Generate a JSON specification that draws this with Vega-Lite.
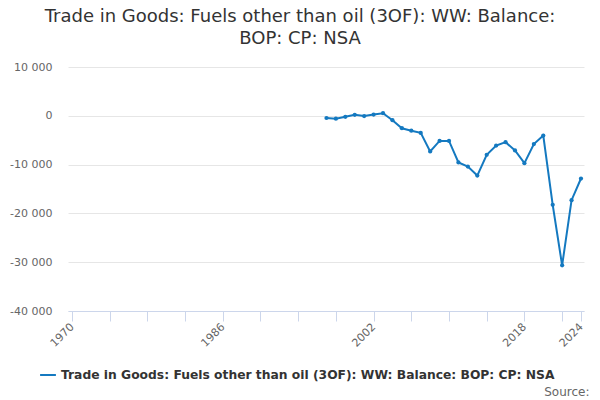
{
  "$schema": "https://vega.github.io/schema/vega-lite/v6.json",
  "autosize": {"type": "none"},
  "padding": {"left": 68, "top": 67, "right": 16, "bottom": 89},
  "width": 516,
  "height": 244,
  "background": "white",
  "title": {
    "text": ["Trade in Goods: Fuels other than oil (3OF): WW: Balance:", "BOP: CP: NSA"],
    "font": "DejaVu Sans",
    "fontSize": 18,
    "fontWeight": "normal",
    "color": "#333333",
    "anchor": "middle",
    "dx": -26,
    "offset": 13,
    "lineHeight": 22
  },
  "config": {
    "locale": {
      "number": {"decimal": ".", "thousands": " ", "grouping": [3], "currency": ["", ""], "minus": "-"}
    },
    "view": {"stroke": null},
    "font": "DejaVu Sans"
  },
  "data": {
    "values": [
      {"year": 1997, "value": -450, "series": "Trade in Goods: Fuels other than oil (3OF): WW: Balance: BOP: CP: NSA"},
      {"year": 1998, "value": -600, "series": "Trade in Goods: Fuels other than oil (3OF): WW: Balance: BOP: CP: NSA"},
      {"year": 1999, "value": -200, "series": "Trade in Goods: Fuels other than oil (3OF): WW: Balance: BOP: CP: NSA"},
      {"year": 2000, "value": 200, "series": "Trade in Goods: Fuels other than oil (3OF): WW: Balance: BOP: CP: NSA"},
      {"year": 2001, "value": -50, "series": "Trade in Goods: Fuels other than oil (3OF): WW: Balance: BOP: CP: NSA"},
      {"year": 2002, "value": 250, "series": "Trade in Goods: Fuels other than oil (3OF): WW: Balance: BOP: CP: NSA"},
      {"year": 2003, "value": 530, "series": "Trade in Goods: Fuels other than oil (3OF): WW: Balance: BOP: CP: NSA"},
      {"year": 2004, "value": -900, "series": "Trade in Goods: Fuels other than oil (3OF): WW: Balance: BOP: CP: NSA"},
      {"year": 2005, "value": -2550, "series": "Trade in Goods: Fuels other than oil (3OF): WW: Balance: BOP: CP: NSA"},
      {"year": 2006, "value": -3050, "series": "Trade in Goods: Fuels other than oil (3OF): WW: Balance: BOP: CP: NSA"},
      {"year": 2007, "value": -3500, "series": "Trade in Goods: Fuels other than oil (3OF): WW: Balance: BOP: CP: NSA"},
      {"year": 2008, "value": -7300, "series": "Trade in Goods: Fuels other than oil (3OF): WW: Balance: BOP: CP: NSA"},
      {"year": 2009, "value": -5150, "series": "Trade in Goods: Fuels other than oil (3OF): WW: Balance: BOP: CP: NSA"},
      {"year": 2010, "value": -5150, "series": "Trade in Goods: Fuels other than oil (3OF): WW: Balance: BOP: CP: NSA"},
      {"year": 2011, "value": -9550, "series": "Trade in Goods: Fuels other than oil (3OF): WW: Balance: BOP: CP: NSA"},
      {"year": 2012, "value": -10400, "series": "Trade in Goods: Fuels other than oil (3OF): WW: Balance: BOP: CP: NSA"},
      {"year": 2013, "value": -12250, "series": "Trade in Goods: Fuels other than oil (3OF): WW: Balance: BOP: CP: NSA"},
      {"year": 2014, "value": -8000, "series": "Trade in Goods: Fuels other than oil (3OF): WW: Balance: BOP: CP: NSA"},
      {"year": 2015, "value": -6100, "series": "Trade in Goods: Fuels other than oil (3OF): WW: Balance: BOP: CP: NSA"},
      {"year": 2016, "value": -5400, "series": "Trade in Goods: Fuels other than oil (3OF): WW: Balance: BOP: CP: NSA"},
      {"year": 2017, "value": -7100, "series": "Trade in Goods: Fuels other than oil (3OF): WW: Balance: BOP: CP: NSA"},
      {"year": 2018, "value": -9700, "series": "Trade in Goods: Fuels other than oil (3OF): WW: Balance: BOP: CP: NSA"},
      {"year": 2019, "value": -5800, "series": "Trade in Goods: Fuels other than oil (3OF): WW: Balance: BOP: CP: NSA"},
      {"year": 2020, "value": -4050, "series": "Trade in Goods: Fuels other than oil (3OF): WW: Balance: BOP: CP: NSA"},
      {"year": 2021, "value": -18250, "series": "Trade in Goods: Fuels other than oil (3OF): WW: Balance: BOP: CP: NSA"},
      {"year": 2022, "value": -30650, "series": "Trade in Goods: Fuels other than oil (3OF): WW: Balance: BOP: CP: NSA"},
      {"year": 2023, "value": -17300, "series": "Trade in Goods: Fuels other than oil (3OF): WW: Balance: BOP: CP: NSA"},
      {"year": 2024, "value": -12850, "series": "Trade in Goods: Fuels other than oil (3OF): WW: Balance: BOP: CP: NSA"}
    ]
  },
  "mark": {"type": "line", "strokeWidth": 2, "point": {"filled": true, "size": 18}},
  "encoding": {
    "x": {
      "field": "year",
      "type": "quantitative",
      "scale": {"domain": [1969.58, 2024.32], "nice": false, "zero": false},
      "axis": {
        "title": "Source:",
        "titleX": 521,
        "titleY": 84,
        "titleAlign": "right",
        "titleAnchor": null,
        "titleBaseline": "alphabetic",
        "titleFontWeight": "normal",
        "titleFontSize": 12,
        "titleColor": "#666666",
        "values": [1970, 1974, 1978, 1982, 1986, 1990, 1994, 1998, 2002, 2006, 2010, 2014, 2018, 2022, 2024],
        "labelExpr": "indexof([1970, 1986, 2002, 2018, 2024], datum.value) >= 0 ? toString(datum.value) : ''",
        "labelAngle": -45,
        "labelAlign": "right",
        "labelBaseline": "middle",
        "labelFontSize": 11,
        "labelColor": "#666666",
        "labelPadding": 4,
        "labelOverlap": false,
        "labelFlush": false,
        "grid": false,
        "domainColor": "#ccd6eb",
        "tickColor": "#ccd6eb",
        "tickSize": 10
      }
    },
    "y": {
      "field": "value",
      "type": "quantitative",
      "scale": {"domain": [-40000, 10000], "nice": false},
      "axis": {
        "title": null,
        "values": [-40000, -30000, -20000, -10000, 0, 10000],
        "format": ",d",
        "labelFontSize": 11,
        "labelColor": "#666666",
        "labelPadding": 16,
        "ticks": false,
        "domain": false,
        "grid": true,
        "gridColor": "#e6e6e6"
      }
    },
    "color": {
      "field": "series",
      "type": "nominal",
      "scale": {"range": ["#1479c0"]},
      "legend": {
        "title": null,
        "orient": "none",
        "legendX": -29,
        "legendY": 299,
        "symbolType": "stroke",
        "symbolStrokeWidth": 2,
        "symbolSize": 250,
        "labelFontSize": 12.3,
        "labelFontWeight": "bold",
        "labelColor": "#333333",
        "labelLimit": 600
      }
    }
  }
}
